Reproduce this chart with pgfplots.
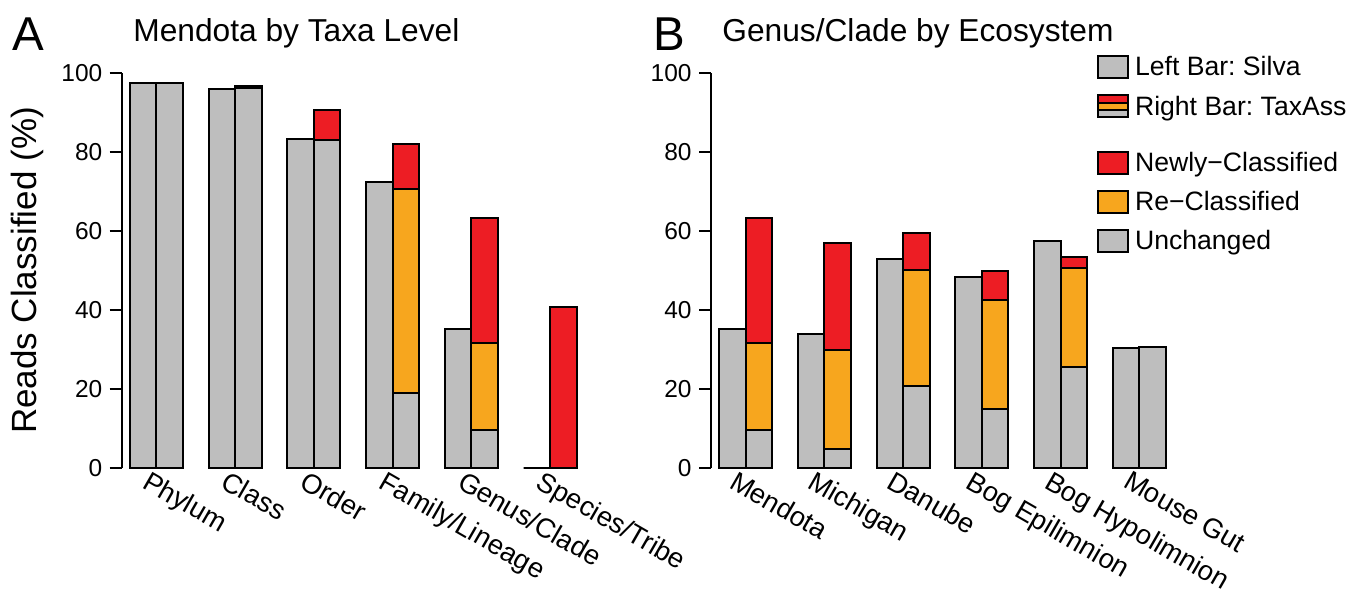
\documentclass[border=0pt]{standalone}
\usepackage{pgfplots}
\usepackage{pgfplotstable}
\pgfplotsset{compat=1.18}
\usepackage{fontspec}
\setmainfont{Liberation Sans}
\frenchspacing
\definecolor{cgray}{RGB}{190,190,190}
\definecolor{cred}{RGB}{237,29,36}
\definecolor{corange}{RGB}{247,166,30}

\pgfplotstableread{
x left gray go total
0 97.5 97.6 97.6 97.6
1 96.1 96.2 96.2 96.9
2 83.3 83.1 83.1 90.7
3 72.4 18.9 70.7 82.1
4 35.1 9.5 31.6 63.3
5 0 0 0 40.7
}\dataA
\pgfplotstableread{
x left gray go total
0 35.1 9.5 31.6 63.3
1 33.8 4.7 29.8 57.0
2 52.8 20.8 50.1 59.6
3 48.3 14.8 42.5 49.9
4 57.6 25.5 50.6 53.5
5 30.3 30.7 30.7 30.7
}\dataB

\pgfplotsset{
 panel/.style={
  x=39.375bp, y=1.972bp,
  xmin=-0.44, xmax=5.56, ymin=0, ymax=100,
  enlargelimits=false, clip=false,
  axis y line*=left, axis x line*=bottom,
  x axis line style={draw=none},
  y axis line style={line width=1bp, black},
  xtick style={draw=none},
  ytick style={line width=1bp, black},
  tick align=outside, major tick length=6bp,
  ytick={0,20,40,60,80,100},
  /pgf/number format/assume math mode=true,
  yticklabel style={inner sep=0pt, xshift=-3.5bp, font=\fontsize{12.25bp}{14bp}\selectfont},
  xticklabel style={inner sep=0pt, anchor=north west, rotate=-30, font=\fontsize{13.7bp}{16bp}\selectfont},
  xticklabel shift=-5.2bp,
 },
 lbar/.style={ybar, bar width=0.3365, bar shift=-0.16825, draw=black, line width=1bp, fill=cgray, forget plot},
 rbar/.style={ybar, bar width=0.3365, bar shift=0.16825, draw=black, line width=1bp, fill=#1, forget plot},
}

\begin{document}
\begin{tikzpicture}
\begin{axis}[panel, at={(60.85bp,61.65bp)}, anchor=south west,
  xtick={-0.07,0.93,1.93,2.93,3.93,4.93},
  xticklabels={Phylum, Class, Order, Family/Lineage, Genus/Clade, Species/Tribe},
  ylabel={Reads Classified (\%)},
  every axis y label/.style={at={(rel axis cs:0,0.5)}, xshift=-42.35bp, rotate=90, anchor=base, inner sep=0pt, font=\fontsize{17.5bp}{21bp}\selectfont},
]
\addplot[lbar] table[x=x,y=left]{\dataA};
\addplot[rbar=cred] table[x=x,y=total]{\dataA};
\addplot[rbar=corange] table[x=x,y=go]{\dataA};
\addplot[rbar=cgray] table[x=x,y=gray]{\dataA};
\end{axis}

\begin{axis}[panel, at={(355.5bp,61.65bp)}, anchor=south west,
  xtick={-0.1,0.9,1.9,2.9,3.9,4.9},
  xticklabels={Mendota, Michigan, Danube, Bog Epilimnion, Bog Hypolimnion, Mouse Gut},
  legend cell align=left,
  legend style={at={(0.817,1.0464)}, anchor=north west, draw=none, fill=none,
    inner sep=0pt, outer sep=0pt, row sep=7.6bp,
    font=\fontsize{13.3bp}{15bp}\selectfont,
    nodes={inner sep=0pt, text height=9bp, text depth=0pt},
    /tikz/every odd column/.style={column sep=3bp}},
]
\addplot[lbar] table[x=x,y=left]{\dataB};
\addplot[rbar=cred] table[x=x,y=total]{\dataB};
\addplot[rbar=corange] table[x=x,y=go]{\dataB};
\addplot[rbar=cgray] table[x=x,y=gray]{\dataB};
\addlegendimage{legend image code/.code={\draw[fill=cgray, line width=1bp] (0bp,-5.5bp) rectangle (15bp,5.5bp);}}
\addlegendentry{Left Bar: Silva}
\addlegendimage{legend image code/.code={\draw[fill=cgray,line width=1bp] (0bp,-5.5bp) rectangle (15bp,-1.83bp); \draw[fill=corange,line width=1bp] (0bp,-1.83bp) rectangle (15bp,1.83bp); \draw[fill=cred,line width=1bp] (0bp,1.83bp) rectangle (15bp,5.5bp);}}
\addlegendentry{Right Bar: TaxAss}
\addlegendimage{empty legend}
\addlegendentry[text height=0pt]{}
\addlegendimage{legend image code/.code={\draw[fill=cred, line width=1bp] (0bp,-5.5bp) rectangle (15bp,5.5bp);}}
\addlegendentry{Newly−Classified}
\addlegendimage{legend image code/.code={\draw[fill=corange, line width=1bp] (0bp,-5.5bp) rectangle (15bp,5.5bp);}}
\addlegendentry{Re−Classified}
\addlegendimage{legend image code/.code={\draw[fill=cgray, line width=1bp] (0bp,-5.5bp) rectangle (15bp,5.5bp);}}
\addlegendentry{Unchanged}
\end{axis}

\node[anchor=base west, inner sep=0pt, font=\fontsize{23.75bp}{28bp}\selectfont] at (6bp,270bp) {A};
\node[anchor=base west, inner sep=0pt, font=\fontsize{15.85bp}{19bp}\selectfont] at (66.5bp,274.5bp) {Mendota by Taxa Level};
\node[anchor=base west, inner sep=0pt, font=\fontsize{23.75bp}{28bp}\selectfont] at (326.5bp,270bp) {B};
\node[anchor=base west, inner sep=0pt, font=\fontsize{15.85bp}{19bp}\selectfont] at (361bp,274.5bp) {Genus/Clade by Ecosystem};

\pgfresetboundingbox
\path (0,0) rectangle (683bp,295.5bp);
\end{tikzpicture}
\end{document}
